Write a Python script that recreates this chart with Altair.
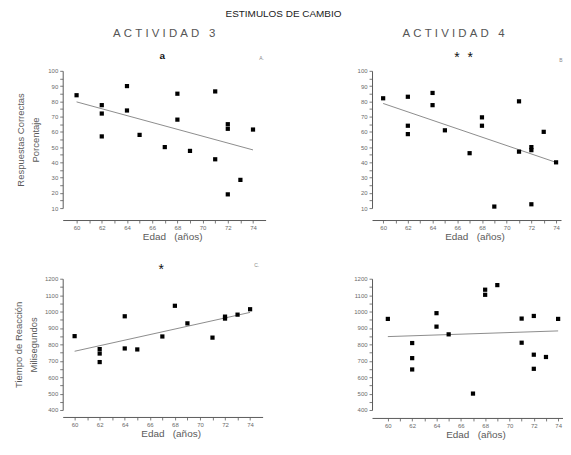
import altair as alt
import pandas as pd

# ---------------- data ----------------
# Panel A: Actividad 3, respuestas correctas (%)
age_a = [60, 62, 62, 62, 64, 64, 65, 67, 68, 68, 69, 71, 71, 72, 72, 72, 73, 74]
correct_a = [84, 77.5, 72, 57, 90, 74, 58, 50, 85, 68, 47.5, 86.5, 42, 65, 62, 19, 28.5, 61.5]

# Panel B: Actividad 4, respuestas correctas (%)
age_b = [60, 62, 62, 62, 64, 64, 65, 67, 68, 68, 69, 71, 71, 72, 72, 72, 73, 74]
correct_b = [82, 83, 64, 58.5, 85.5, 77.5, 61, 46, 69.5, 64, 11, 80, 47, 50, 48, 12.5, 60, 40]

# Panel C: Actividad 3, tiempo de reaccion (ms)
age_c = [60, 62, 62, 62, 64, 64, 65, 67, 68, 69, 71, 72, 72, 73, 74]
rt_c = [850, 771, 744, 692, 971, 775, 769, 848, 1035, 928, 841, 969, 957, 981, 1014]

# Panel D: Actividad 4, tiempo de reaccion (ms)
age_d = [60, 62, 62, 62, 64, 64, 65, 67, 68, 68, 69, 71, 71, 72, 72, 72, 73, 74]
rt_d = [955, 808, 716, 647, 990, 908, 861, 500, 1133, 1102, 1161, 957, 810, 973, 737, 651, 723, 955]

# tick values
x_ticks = list(range(60, 75))
pct_ticks = list(range(10, 101, 5))
ms_ticks = list(range(400, 1201, 50))

NB = "\u00a0"
# texts
main_title = "ESTIMULOS DE CAMBIO"
act3 = NB.join("ACTIVIDAD") + NB * 3 + "3"
act4 = NB.join("ACTIVIDAD") + NB * 3 + "4"
x_title = "Edad" + NB * 3 + "(años)"
y_title_pct = ["Respuestas Correctas", "Porcentaje"]
y_title_ms = ["Tiempo de Reacción", "Milisegundos"]

FONT = "Liberation Sans"
GRAY = "#5a5a5a"
LGRAY = "#6a6a6a"


def panel(ages, vals, xdom, ydom, w, h, yticks, ymod, ytitle, ytitle_x, xoffset, notes):
    df = pd.DataFrame({"edad": ages, "v": vals})
    xaxis = alt.Axis(
        values=x_ticks, format="d",
        labelExpr="datum.value % 2 === 0 ? datum.label : ''",
        title=x_title, offset=xoffset, grid=False,
        domainColor=GRAY, tickColor=GRAY, labelColor=LGRAY,
        labelFont=FONT, labelFontSize=6, tickSize=3, tickWidth=0.8,
        labelOverlap=False, labelFlush=False, labelPadding=2,
        titleFont=FONT, titleFontSize=10, titleColor=GRAY,
        titleFontWeight="normal", titlePadding=1, titleX=w / 2 + 8,
    )
    ykw = dict(
        values=yticks, format="d",
        labelExpr=f"datum.value % {ymod} === 0 ? datum.label : ''",
        grid=False, domainColor=GRAY, tickColor=GRAY, labelColor=LGRAY,
        labelFont=FONT, labelFontSize=6, tickSize=3, tickWidth=0.8,
        labelOverlap=False, labelFlush=False, labelPadding=2,
    )
    if ytitle:
        ykw.update(title=ytitle, titleFont=FONT, titleFontSize=9.5, titleColor=GRAY,
                   titleFontWeight="normal", titleX=ytitle_x, titleY=h / 2,
                   titleAngle=270, titleAlign="center", titleBaseline="top",
                   titleLineHeight=15)
    else:
        ykw.update(title=None)
    xenc = alt.X("edad:Q", scale=alt.Scale(domain=xdom, nice=False, zero=False), axis=xaxis)
    yenc = alt.Y("v:Q", scale=alt.Scale(domain=ydom, nice=False, zero=False), axis=alt.Axis(**ykw))
    pts = alt.Chart(df).mark_square(size=18, color="black", opacity=1).encode(x=xenc, y=yenc)
    fit = (alt.Chart(df).transform_regression("edad", "v")
           .mark_line(color="#808080", strokeWidth=0.9).encode(x=xenc, y=yenc))
    layers = [fit, pts]
    for txt, px, py, size, weight, color in notes:
        layers.append(
            alt.Chart(pd.DataFrame({"t": [txt]}))
            .mark_text(font=FONT, fontSize=size, fontWeight=weight, color=color,
                       align="center", baseline="middle")
            .encode(text="t:N", x=alt.value(px), y=alt.value(py))
        )
    return alt.layer(*layers).properties(width=w, height=h)


A = panel(age_a, correct_a, [58.9, 75], [10, 100], 204, 138, pct_ticks, 10,
          y_title_pct, -47.5, 12,
          [(main_title, 222, -57, 10, "normal", "#222"),
           (act3, 102, -37, 11.5, "normal", "#555"),
           ("a", 100, -15, 10, "bold", "#111"),
           ("A.", 200, -13, 5, "normal", "#888")])

B = panel(age_b, correct_b, [59.1, 74.4], [10, 100], 190, 138, pct_ticks, 10,
          None, 0, 12,
          [(act4, 82, -37, 11.5, "normal", "#555"),
           ("*" + NB * 2 + "*", 92, -13, 14, "normal", "#111"),
           ("B", 190, -11, 5, "normal", "#888")])

C = panel(age_c, rt_c, [59.05, 75], [400, 1200], 201, 132, ms_ticks, 100,
          y_title_ms, -49.5, 7,
          [("*", 99, -9, 14, "normal", "#111"),
           ("C.", 195, -14, 5, "normal", "#888")])

D = panel(age_d, rt_d, [58.7, 74.4], [400, 1200], 192, 132, ms_ticks, 100,
          None, 0, 8, [])

chart = (
    alt.concat(A, B, C, D, columns=2, spacing={"row": 71, "column": 107}, bounds="flush")
    .properties(padding={"left": 5, "top": 0, "right": 0, "bottom": 0}, background="white")
    .configure_view(stroke=None)
)

chart.save("out.html", embed_options={"renderer": "svg", "actions": False})
